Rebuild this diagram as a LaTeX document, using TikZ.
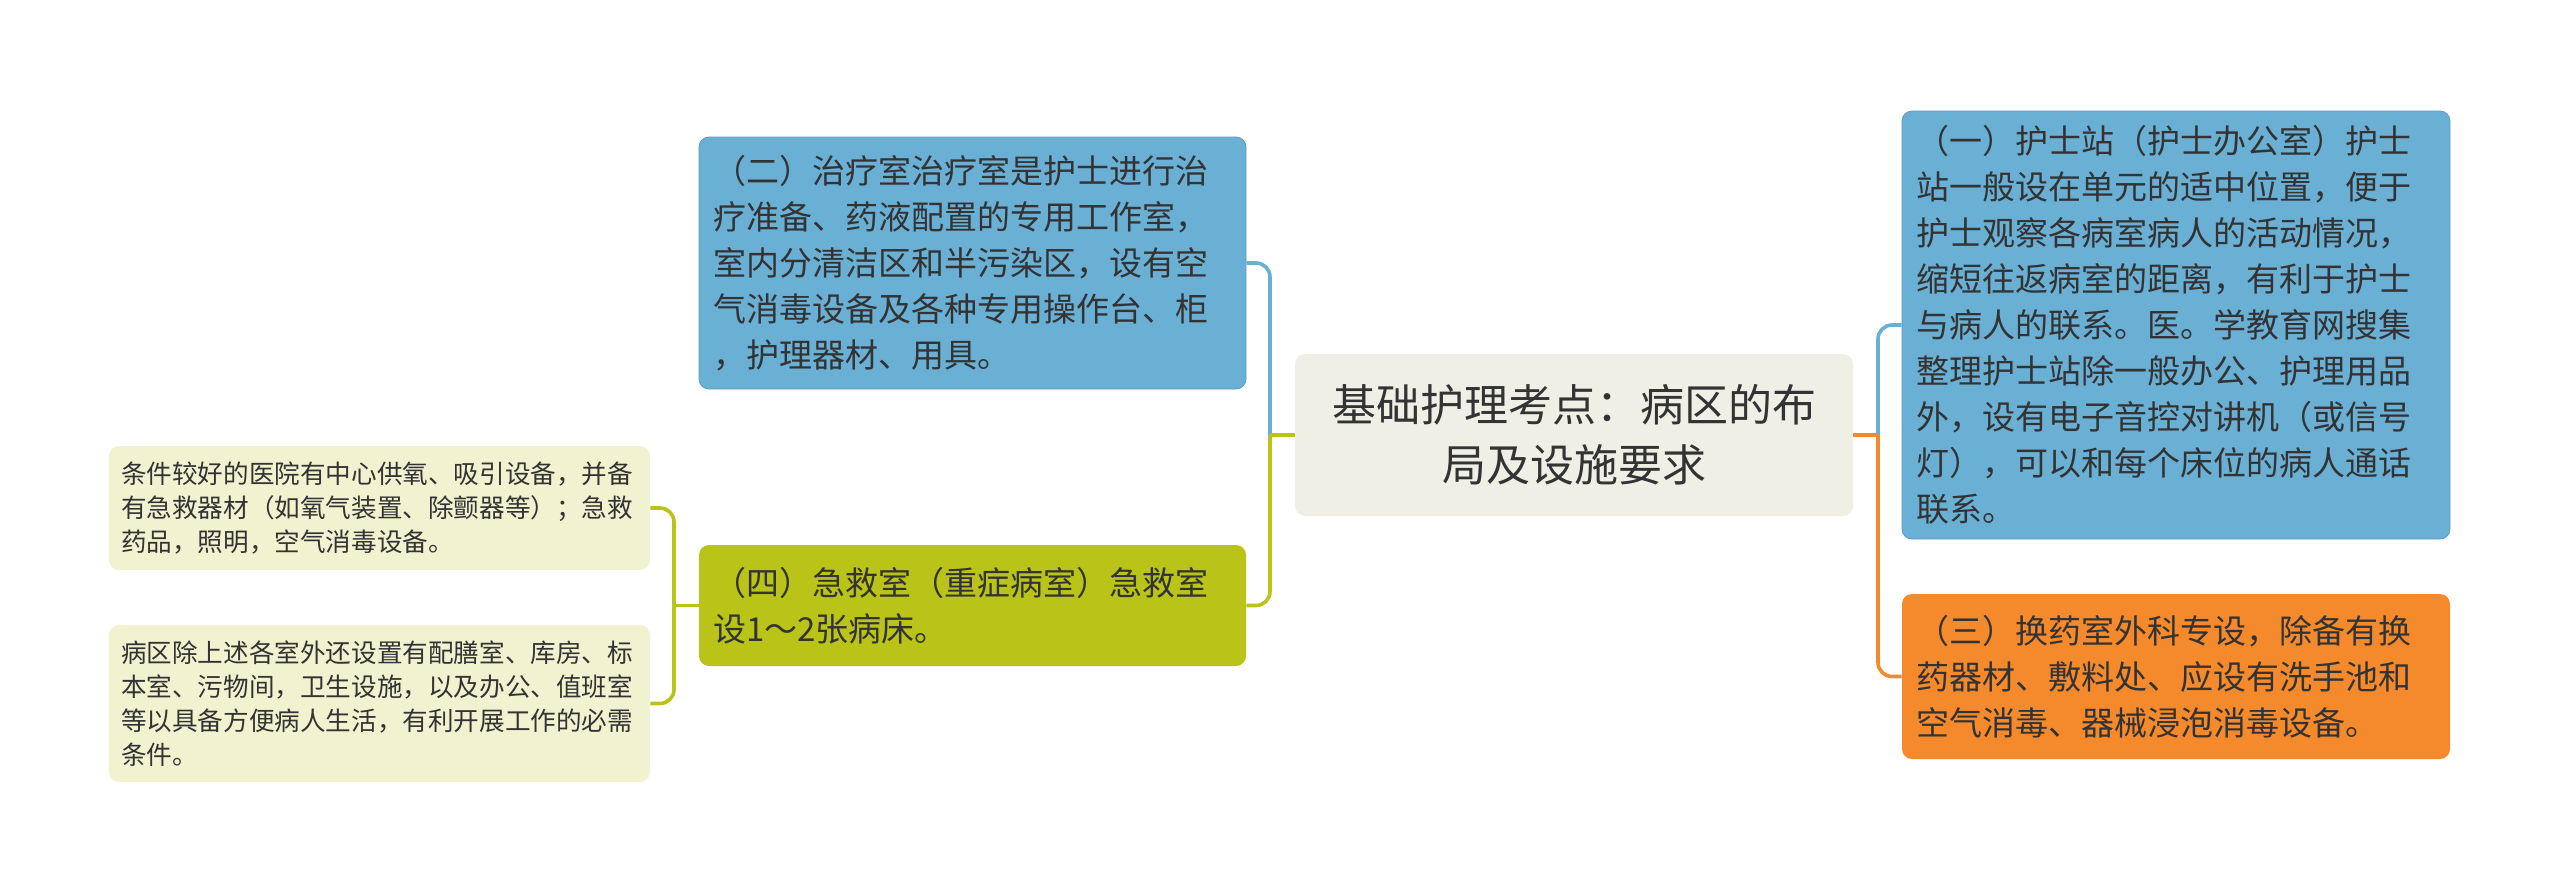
\documentclass[tikz,border=0pt]{standalone}
\usepackage{fontspec}
\setmainfont{Noto Sans CJK SC}
\definecolor{txt}{HTML}{333333}
\definecolor{bluef}{HTML}{6AAFD4}
\definecolor{greenf}{HTML}{BAC318}
\definecolor{orangef}{HTML}{F58A2D}
\definecolor{centerf}{HTML}{EFEFE6}
\definecolor{leaff}{HTML}{F1F3D0}
\begin{document}
\begin{tikzpicture}[x=0.5pt,y=-0.5pt,
  box/.style={rounded corners=5pt, inner xsep=7pt, inner ysep=0pt, align=left, text=txt, anchor=center,
    font=\fontsize{16.5pt}{23pt}\selectfont},
  bluebox/.style={box, fill=bluef, draw=bluef!90!black, line width=0.4pt, text width=259.5pt, minimum width=273.5pt},
  greenbox/.style={box, fill=greenf, text width=259.5pt, minimum width=273.5pt},
  orangebox/.style={box, fill=orangef, text width=260pt, minimum width=274pt},
  centerbox/.style={box, fill=centerf, align=center, text width=265pt, minimum width=279pt, minimum height=81pt,
    font=\fontsize{22pt}{30pt}\selectfont},
  leafbox/.style={box, fill=leaff, inner xsep=6pt, text width=258.5pt, minimum width=270.5pt,
    font=\fontsize{12.8pt}{17pt}\selectfont},
  bl/.style={draw=bluef, line width=1.8pt},
  gl/.style={draw=greenf, line width=1.8pt},
  ol/.style={draw=orangef, line width=1.8pt}
]
\useasboundingbox (0,0) rectangle (2560,895);
\fill[white] (0,0) rectangle (2560,895);

\node[centerbox] (c) at (1574,435) {基础护理考点：病区的布\\局及设施要求};

\node[bluebox, minimum height=126pt] (n2) at (972.5,263) {（二）治疗室治疗室是护士进行治\\疗准备、药液配置的专用工作室，\\室内分清洁区和半污染区，设有空\\气消毒设备及各种专用操作台、柜\\，护理器材、用具。};

\node[greenbox, minimum height=60.5pt] (n4) at (972.5,605.5) {（四）急救室（重症病室）急救室\\设1～2张病床。};

\node[bluebox, text width=260pt, minimum width=274pt, minimum height=214pt] (n1) at (2176,325) {（一）护士站（护士办公室）护士\\站一般设在单元的适中位置，便于\\护士观察各病室病人的活动情况，\\缩短往返病室的距离，有利于护士\\与病人的联系。医。学教育网搜集\\整理护士站除一般办公、护理用品\\外，设有电子音控对讲机（或信号\\灯），可以和每个床位的病人通话\\联系。};

\node[orangebox, minimum height=82.5pt] (n3) at (2176,676.5) {（三）换药室外科专设，除备有换\\药器材、敷料处、应设有洗手池和\\空气消毒、器械浸泡消毒设备。};

\node[leafbox, minimum height=62pt] (l1) at (379.5,508) {条件较好的医院有中心供氧、吸引设备，并备\\有急救器材（如氧气装置、除颤器等）；急救\\药品，照明，空气消毒设备。};

\node[leafbox, minimum height=78.5pt] (l2) at (379.5,703.5) {病区除上述各室外还设置有配膳室、库房、标\\本室、污物间，卫生设施，以及办公、值班室\\等以具备方便病人生活，有利开展工作的必需\\条件。};

\coordinate (sL) at (1270,435);
\coordinate (sR) at (1878,435);
\coordinate (sF) at (674,605.5);

% left of center
\draw[bl, rounded corners=7pt] (sL) |- (n2.east);
\draw[gl, rounded corners=7pt] (sL) |- (n4.east);
\draw[gl] (c.west) -- (sL);
% right of center
\draw[bl, rounded corners=7pt] (sR) |- (n1.west);
\draw[ol, rounded corners=7pt] (sR) |- (n3.west);
\draw[ol] (c.east) -- (sR);
% leaves
\draw[gl, rounded corners=7pt] (sF) |- (l1.east);
\draw[gl, rounded corners=7pt] (sF) |- (l2.east);
\draw[gl] (n4.west) -- (sF);
\end{tikzpicture}
\end{document}
